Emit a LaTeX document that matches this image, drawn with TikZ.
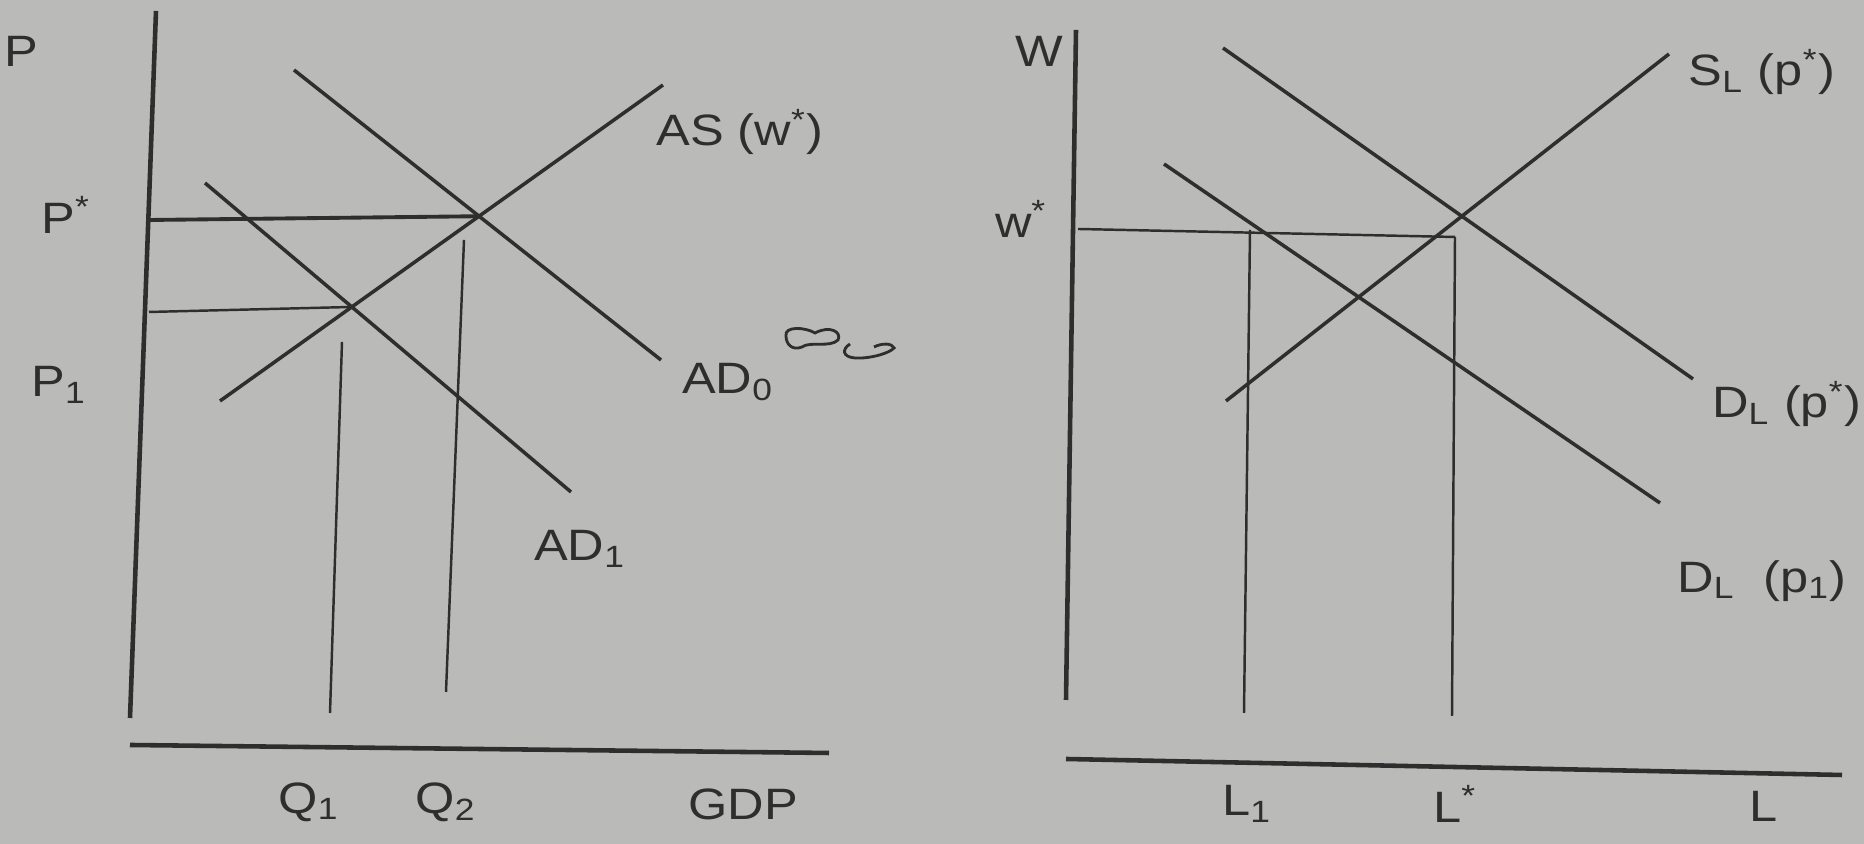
\documentclass[tikz,border=0pt]{standalone}
\usepackage{fontspec}
\setmainfont{Liberation Sans}[FakeStretch=1.15]
\usepackage{xcolor}
\usepackage{tikz}
\usetikzlibrary{positioning,calc}
\definecolor{paper}{RGB}{186,186,184}
\definecolor{ink}{RGB}{46,46,46}

\begin{document}
\begin{tikzpicture}[
    axis/.style={ink, line width=1.3pt},
    curve/.style={ink, line width=1.0pt},
    guide/.style={ink, line width=0.7pt},
    lbl/.style={ink, font=\fontsize{12.5}{14}\selectfont, inner sep=0pt}]
% paper
\fill[paper] (0,0) rectangle (18.64,8.44);
\useasboundingbox (0,0) rectangle (18.64,8.44);

% ---------------- goods market ----------------
% axes
\coordinate (pbot) at (1.30,1.26);
\coordinate (ptop) at (1.56,8.33);
\coordinate (gl) at (1.30,0.99);
\coordinate (gr) at (8.29,0.91);
\draw[axis] (pbot) -- (ptop);
\draw[axis] (gl) -- (gr);

% demand and supply
\coordinate (ad0a) at (2.94,7.74);
\coordinate (ad0b) at (6.61,4.84);
\coordinate (ad1a) at (2.05,6.61);
\coordinate (ad1b) at (5.71,3.52);
\coordinate (asa) at (2.20,4.43);
\coordinate (asb) at (6.63,7.59);
\draw[curve] (ad0a) -- (ad0b);
\draw[curve] (ad1a) -- (ad1b);
\draw[curve] (asa) -- (asb);
\coordinate (eqs) at (intersection of ad0a--ad0b and asa--asb);
\coordinate (eqo) at (intersection of ad1a--ad1b and asa--asb);

% price levels
\coordinate (pstar) at (1.50,6.24);
\coordinate (pone) at (1.49,5.32);
\draw[guide, line width=1.1pt] (pstar) -- (eqs);
\draw[guide] (pone) -- (eqo);

% output levels
\coordinate (qa) at (3.42,5.02);
\coordinate (qb) at (3.30,1.31);
\coordinate (qc) at (4.64,6.04);
\coordinate (qd) at (4.46,1.52);
\draw[guide] (qa) -- (qb);
\draw[guide] (qc) -- (qd);

% labels
\node[lbl] (lP) at (0.21,7.93) {P};
\node[lbl] (lPs) at (0.66,6.29) {P\textsuperscript{*}};
\node[lbl] (lP1) at (0.59,4.59) {P\textsubscript{1}};
\node[lbl] (lAS) at (7.40,7.12) {AS (w\textsuperscript{*})};
\node[lbl] (lAD0) at (7.28,4.62) {AD\textsubscript{0}};
\node[lbl] (lAD1) at (5.80,2.95) {AD\textsubscript{1}};
\node[lbl] (lQ1) at (3.09,0.42) {Q\textsubscript{1}};
\node[lbl] (lQ2) at (4.46,0.42) {Q\textsubscript{2}};
\node[lbl] (lGDP) at (7.43,0.40) {GDP};

% stray mark
\begin{scope}[yshift=-0.16cm]
\draw[ink, line width=0.8pt] (7.86,5.24) .. controls (7.84,5.34) and (8.05,5.33) .. (8.15,5.27)
    .. controls (8.30,5.35) and (8.42,5.28) .. (8.38,5.20)
    .. controls (8.30,5.12) and (8.10,5.19) .. (8.02,5.13)
    .. controls (7.92,5.09) and (7.86,5.16) .. (7.86,5.24);
\draw[ink, line width=0.8pt] (8.50,5.16) .. controls (8.42,5.11) and (8.42,5.03) .. (8.55,5.02)
    .. controls (8.70,5.01) and (8.90,5.07) .. (8.94,5.12)
    .. controls (8.92,5.17) and (8.82,5.17) .. (8.74,5.13);
\end{scope}

% ---------------- labour market ----------------
% axes
\coordinate (wbot) at (10.66,1.44);
\coordinate (wtop) at (10.76,8.14);
\coordinate (ll) at (10.66,0.85);
\coordinate (lr) at (18.42,0.69);
\draw[axis] (wbot) -- (wtop);
\draw[axis] (ll) -- (lr);

% labour demand and supply
\coordinate (dsa) at (12.23,7.96);
\coordinate (dsb) at (16.93,4.65);
\coordinate (doa) at (11.64,6.80);
\coordinate (dob) at (16.60,3.41);
\coordinate (sla) at (12.26,4.43);
\coordinate (slb) at (16.69,7.90);
\draw[curve] (dsa) -- (dsb);
\draw[curve] (doa) -- (dob);
\draw[curve] (sla) -- (slb);

% wage and employment levels
\coordinate (wstar) at (10.78,6.15);
\coordinate (wend) at (14.55,6.07);
\coordinate (lone) at (12.50,6.14);
\coordinate (lonebot) at (12.44,1.31);
\coordinate (lsbot) at (14.52,1.28);
\draw[guide] (wstar) -- (wend);
\draw[guide] (lone) -- (lonebot);
\draw[guide] (wend) -- (lsbot);

% labels
\node[lbl] (lW) at (10.39,7.93) {W};
\node[lbl] (lws) at (10.21,6.25) {w\textsuperscript{*}};
\node[lbl] (lSL) at (17.62,7.72) {S\textsubscript{L} (p\textsuperscript{*})};
\node[lbl, anchor=east] (lDs) at (18.62,4.40) {D\textsubscript{L} (p\textsuperscript{*})};
\node[lbl] (lDo) at (17.62,2.63) {D\textsubscript{L}\ \ (p\textsubscript{1})};
\node[lbl] (lL1) at (12.47,0.40) {L\textsubscript{1}};
\node[lbl] (lLs) at (14.55,0.40) {L\textsuperscript{*}};
\node[lbl] (lL) at (17.64,0.38) {L};
\end{tikzpicture}
\end{document}
